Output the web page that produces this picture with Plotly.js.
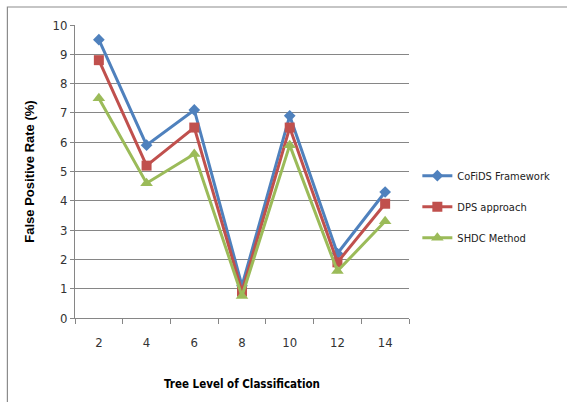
<!DOCTYPE html>
<html>
<head>
<meta charset="utf-8">
<script src="https://cdn.plot.ly/plotly-3.0.1.min.js"></script>
<style>
  html, body { margin: 0; padding: 0; background: #fff; }
  #chart { width: 567px; height: 402px; }
</style>
</head>
<body>
<div id="chart"></div>
<script>
// Tree levels on the x axis
const treeLevels = ['2', '4', '6', '8', '10', '12', '14'];

// False positive rate (%) per method
const cofidsFramework = [9.5, 5.9, 7.1, 1.1, 6.9, 2.2, 4.3];
const dpsApproach     = [8.8, 5.2, 6.5, 0.9, 6.5, 1.9, 3.9];
const shdcMethod      = [7.5, 4.6, 5.6, 0.75, 5.9, 1.6, 3.3];

const seriesNames = ['CoFiDS Framework', 'DPS approach', 'SHDC Method'];

const narrow = '"DejaVu Sans Condensed", "Liberation Sans Narrow", sans-serif';

function series(name, values, color, symbol, size) {
  return {
    type: 'scatter',
    mode: 'lines+markers',
    name: name,
    legendgroup: name,
    x: treeLevels,
    y: values,
    line: { color: color, width: 3 },
    marker: { color: color, symbol: symbol, size: size }
  };
}

const data = [
  series(seriesNames[0], cofidsFramework, '#4F81BD', 'diamond', 9),
  series(seriesNames[1], dpsApproach, '#C0504D', 'square', 10),
  series(seriesNames[2], shdcMethod, '#9BBB59', 'triangle-up', 11)
];

const layout = {
  width: 567,
  height: 402,
  margin: { l: 75, r: 156, t: 25, b: 84 },
  paper_bgcolor: '#ffffff',
  plot_bgcolor: '#ffffff',
  showlegend: true,
  legend: {
    x: 1.025, y: 0.38, xanchor: 'left', yanchor: 'middle',
    font: { family: narrow, size: 11, color: '#222' },
    traceorder: 'grouped',
    tracegroupgap: 12,
    itemwidth: 30,
    bgcolor: 'rgba(0,0,0,0)'
  },
  xaxis: {
    type: 'category',
    range: [-0.5, 6.5],
    showgrid: false,
    zeroline: false,
    showline: true,
    linecolor: '#868686',
    linewidth: 1,
    ticks: 'outside',
    tickson: 'boundaries',
    ticklen: 5,
    tickcolor: '#868686',
    ticklabelstandoff: 12,
    tickfont: { family: narrow, size: 13, color: '#333' },
    title: {
      text: '<b>Tree Level of Classification</b>',
      font: { family: narrow, size: 11.5, color: '#000' },
      standoff: 31
    }
  },
  yaxis: {
    range: [0, 10],
    dtick: 1,
    showgrid: true,
    gridcolor: '#868686',
    gridwidth: 1,
    zeroline: false,
    showline: true,
    linecolor: '#868686',
    ticks: 'outside',
    ticklen: 4,
    tickcolor: '#868686',
    tickfont: { family: narrow, size: 13, color: '#333' },
    title: {
      text: '<b>False Positive Rate (%)</b>',
      font: { family: '"Liberation Sans", Arial, sans-serif', size: 13, color: '#000' },
      standoff: 14
    }
  },
  shapes: [{
    type: 'rect',
    xref: 'paper', yref: 'paper',
    x0: -0.2024, x1: 1.48, y0: -0.30, y1: 1.0614,
    line: { color: '#8c8c8c', width: 1.2 },
    fillcolor: 'rgba(0,0,0,0)',
    layer: 'below'
  }]
};

Plotly.newPlot('chart', data, layout, { displayModeBar: false, staticPlot: true });
</script>
</body>
</html>
